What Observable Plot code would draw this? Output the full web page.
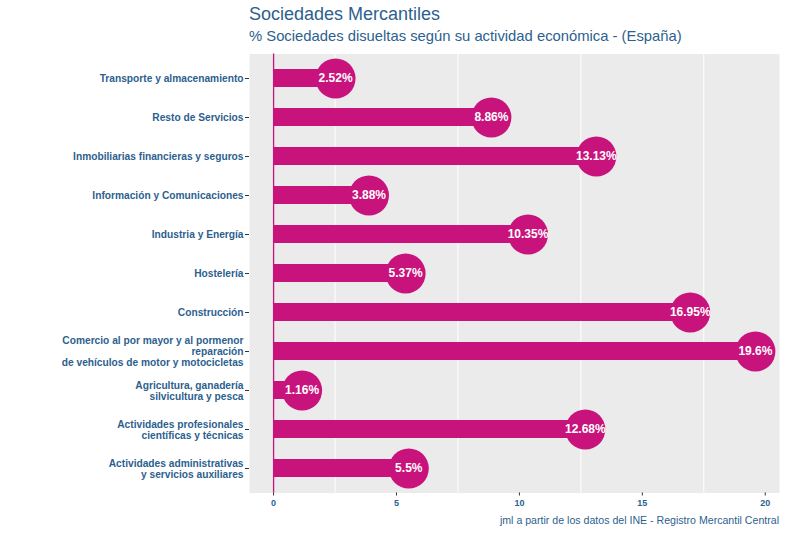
<!DOCTYPE html>
<html>
<head>
<meta charset="utf-8">
<script src="https://cdn.jsdelivr.net/npm/d3@7"></script>
<script src="https://cdn.jsdelivr.net/npm/@observablehq/plot@0.6"></script>
<style>
  html, body { margin: 0; padding: 0; background: #ffffff; }
  #wrap { position: relative; width: 787px; height: 533px; font-family: "Liberation Sans", Arial, sans-serif; }
  #title { position: absolute; left: 249px; top: 4px; font-size: 18px; color: #2D5F8F; white-space: nowrap; }
  #subtitle { position: absolute; left: 249px; top: 28px; font-size: 14.8px; color: #2D5F8F; white-space: nowrap; }
  #chart { position: absolute; left: 0; top: 50px; }
  #caption { position: absolute; right: 8px; top: 514px; font-size: 10.6px; color: #2D5F8F; white-space: nowrap; }
</style>
</head>
<body>
<div id="wrap">
  <div id="title">Sociedades Mercantiles</div>
  <div id="subtitle">% Sociedades disueltas según su actividad económica - (España)</div>
  <div id="chart"></div>
  <div id="caption">jml a partir de los datos del INE - Registro Mercantil Central</div>
</div>
<script>
// Categories, top to bottom as shown
const categories = [
  "Transporte y almacenamiento",
  "Resto de Servicios",
  "Inmobiliarias financieras y seguros",
  "Información y Comunicaciones",
  "Industria y Energía",
  "Hostelería",
  "Construcción",
  "Comercio al por mayor y al pormenor\nreparación\nde vehículos de motor y motocicletas",
  "Agricultura, ganadería\nsilvicultura y pesca",
  "Actividades profesionales\ncientíficas y técnicas",
  "Actividades administrativas\ny servicios auxiliares"
];
const values = [2.52, 8.86, 13.13, 3.88, 10.35, 5.37, 16.95, 19.6, 1.16, 12.68, 5.5];
const labels = ["2.52%", "8.86%", "13.13%", "3.88%", "10.35%", "5.37%", "16.95%", "19.6%", "1.16%", "12.68%", "5.5%"];
const xTicks = [0, 5, 10, 15, 20];
const minorGrid = [2.5, 7.5, 12.5, 17.5];

const data = categories.map((c, i) => ({cat: c, value: values[i], label: labels[i]}));

const barColor = "#C9137C";
const textBlue = "#2D5F8F";

const plot = Plot.plot({
  width: 787,
  height: 465,
  marginLeft: 249,
  marginRight: 8,
  marginTop: 3.5,
  marginBottom: 22.5,
  style: {fontFamily: "Liberation Sans, Arial, sans-serif", background: "transparent"},
  x: {domain: [-0.98, 20.58], ticks: xTicks, label: null},
  y: {domain: categories, paddingInner: 0.54, paddingOuter: 0.37, label: null},
  marks: [
    Plot.frame({fill: "#EBEBEB", stroke: null}),
    Plot.ruleX(minorGrid, {stroke: "#ffffff", strokeWidth: 1}),
    Plot.barX(data, {y: "cat", x1: 0, x2: "value", fill: barColor}),
    Plot.ruleX([0], {stroke: barColor, strokeWidth: 1.3}),
    Plot.dot(data, {y: "cat", x: "value", r: 20, fill: barColor, stroke: null}),
    Plot.text(data, {y: "cat", x: "value", text: "label", fill: "#ffffff", fontWeight: "bold", fontSize: 12}),
    Plot.axisX({ticks: xTicks, tickSize: 3, tickPadding: 4, fontSize: 9, fontWeight: "bold", color: textBlue, label: null}),
    Plot.axisY({tickSize: 4, tickPadding: 2, fontSize: 10.2, fontWeight: "bold", color: textBlue, label: null, lineHeight: 1.08})
  ]
});
// tick lines dark gray, tick text blue
plot.querySelectorAll("[aria-label='x-axis tick'] path, [aria-label='y-axis tick'] path, [aria-label='x-axis tick'], [aria-label='y-axis tick']").forEach(p => p.setAttribute("stroke", "#333333"));
document.getElementById("chart").appendChild(plot);
</script>
</body>
</html>
